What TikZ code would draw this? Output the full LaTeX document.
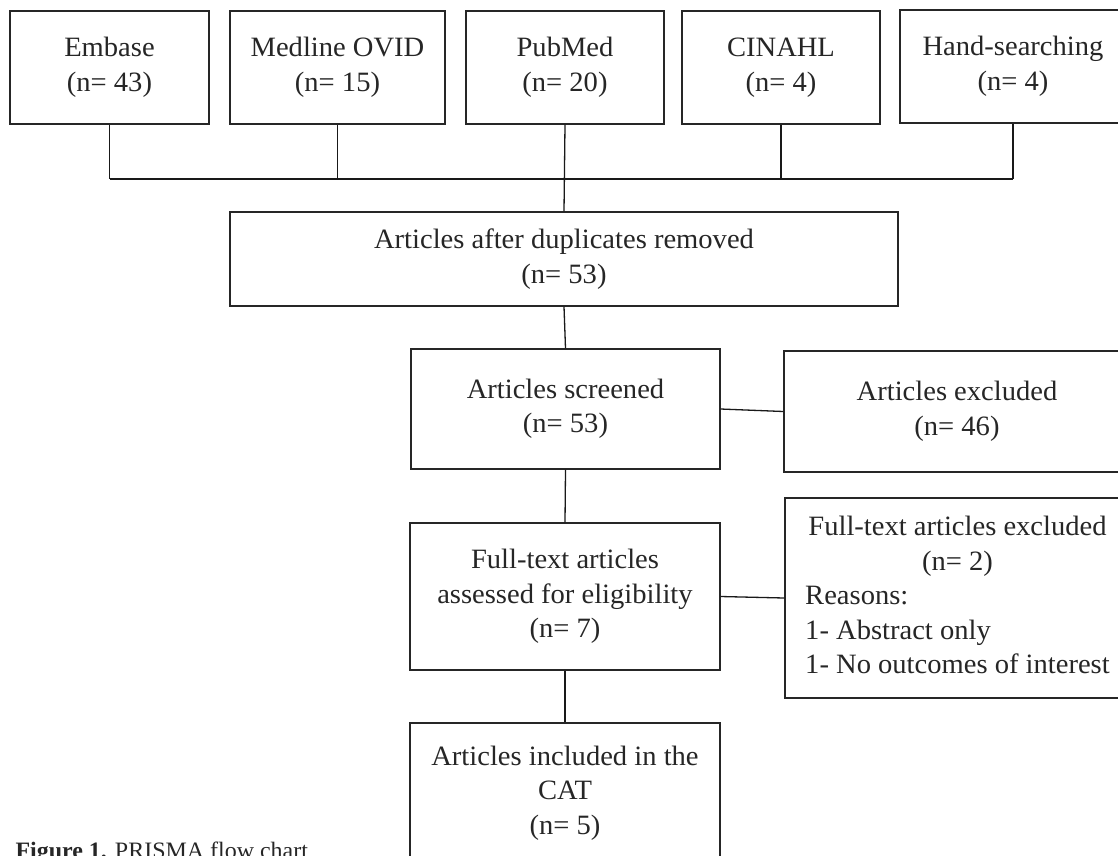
\documentclass[tikz,border=0pt]{standalone}
\usepackage{fontspec}
\setmainfont{Liberation Serif}[FakeStretch=1.02]
\begin{document}
\begin{tikzpicture}[
                x=1pt, y=-1pt,
                every node/.style={font=\fontsize{28}{34.5}\selectfont, text=black!85},
                box/.style={draw=black!85, line width=1.4pt, rectangle, align=center, inner sep=0pt},
                link/.style={draw=black!90, line width=1.3pt}
            ]
            \useasboundingbox[fill=white] (0,0) rectangle (1118,855);
            \node[box, minimum width=199, minimum height=113] (embase) at (109.5,67.5) {Embase\\(n= 43)};
            \node[box, minimum width=215, minimum height=113] (medline) at (337.5,67.5) {Medline OVID\\(n= 15)};
            \node[box, minimum width=198, minimum height=113] (pubmed) at (565,67.5) {PubMed\\(n= 20)};
            \node[box, minimum width=198, minimum height=113] (cinahl) at (781,67.5) {CINAHL\\(n= 4)};
            \node[box, minimum width=226, minimum height=113] (hand) at (1013,66.5) {Hand-searching\\(n= 4)};
            \coordinate (bus) at (0,179);
            \node[box, minimum width=668, minimum height=94] (dup) at (564,259) {Articles after duplicates removed\\(n= 53)};
            \node[box, minimum width=309, minimum height=120] (screened) at (565.5,409) {Articles screened\\(n= 53)};
            \node[box, minimum width=346, minimum height=121] (excluded) at (957,411.5) {Articles excluded\\(n= 46)};
            \node[box, minimum width=310, minimum height=147] (fulltext) at (565,596.5) {Full-text articles\\assessed for eligibility\\(n= 7)};
            \node[box, minimum width=345, minimum height=200] (ftexcl) at (957.5,598)
                {\begin{tabular}{@{}l@{}}\multicolumn{1}{@{}c@{}}{Full-text articles excluded}\\
                 \multicolumn{1}{@{}c@{}}{(n= 2)}\\Reasons:\\1- Abstract only\\1- No outcomes of interest\end{tabular}};
            \node[box, minimum width=310, minimum height=140] (included) at (565,793) {Articles included in the\\CAT\\(n= 5)};
            \node[anchor=base west, font=\fontsize{23.5}{28}\selectfont] (caption) at (12,858) {\textbf{Figure 1.} PRISMA flow chart};
            \foreach \src in {embase, medline, cinahl, hand}
                \draw[link] (\src.south) -- (\src.south |- bus);
            \draw[link] (embase.south |- bus) -- (hand.south |- bus);
            \draw[link] (pubmed.south) -- (dup.north);
            \draw[link] (dup.south) -- (screened.north);
            \draw[link] (screened.east) -- (excluded.west);
            \draw[link] (screened.south) -- (fulltext.north);
            \draw[link] (fulltext.east) -- (ftexcl.west);
            \draw[link] (fulltext.south) -- (included.north);
        \end{tikzpicture}
\end{document}
